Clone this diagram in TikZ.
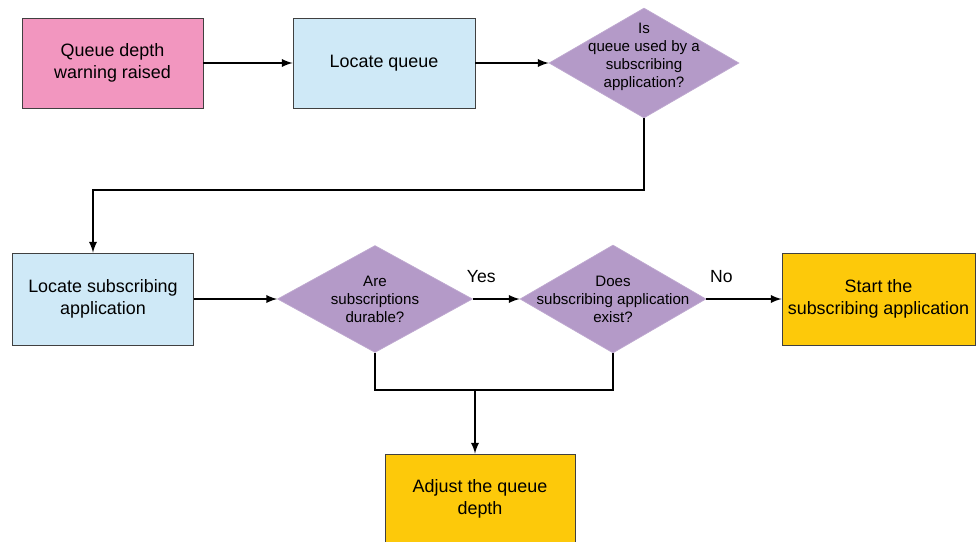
\documentclass[tikz,border=0pt]{standalone}
\usepackage{fontspec}
\setmainfont{Liberation Sans}
\usetikzlibrary{arrows,shapes.geometric}
\definecolor{pinkbox}{HTML}{F296BF}
\definecolor{bluebox}{HTML}{CFE9F7}
\definecolor{purplebox}{HTML}{B49AC8}
\definecolor{orangebox}{HTML}{FDC90A}
\definecolor{edgegray}{HTML}{404040}

\begin{document}
\begin{tikzpicture}[x=0.02cm,y=-0.02cm,
  box/.style={draw=edgegray,line width=0.5pt,minimum width=3.62cm,minimum height=1.8cm,
    align=center,font=\fontsize{10.2}{12.4}\selectfont},
  decision/.style={diamond,fill=purplebox,draw=purplebox!85!white,inner sep=0pt},
  dtext/.style={align=center,font=\fontsize{8.6}{10.2}\selectfont},
  flow/.style={line width=1.1pt,>=latex}]
\useasboundingbox (0,0) rectangle (977,541);
% top row
\node[box,fill=pinkbox] (A) at (112.5,63) {Queue depth\\warning raised};
\node[box,fill=bluebox,minimum width=3.64cm] (B) at (384,63) {Locate queue};
\node[decision,minimum width=3.8cm,minimum height=2.2cm,
  label={[dtext,yshift=0.12cm]center:{Is\\queue used by a\\subscribing\\application?}}] (C) at (644,63) {};
% middle row
\node[box,fill=bluebox,minimum height=1.84cm] (D) at (103,299) {Locate subscribing\\application};
\node[decision,minimum width=3.9cm,minimum height=2.14cm,
  label={[dtext]center:{Are\\subscriptions\\durable?}}] (F) at (375,299) {};
\node[decision,minimum width=3.72cm,minimum height=2.16cm,
  label={[dtext]center:{Does\\subscribing application\\exist?}}] (G) at (613,299) {};
\node[box,fill=orangebox,minimum width=3.82cm,minimum height=1.84cm] (H) at (878.5,299) {Start the\\subscribing application};
% bottom
\node[box,fill=orangebox,minimum width=3.8cm] (K) at (480,499) {Adjust the queue\\depth};
\coordinate (E1) at (93,190);
\coordinate (J) at (475,390);

\path[->,flow] (A) edge (B);
\path[->,flow] (B) edge (C);
\draw[->,flow] (C.south) |- (E1) -- (E1 |- D.north);
\path[->,flow] (D) edge (F);
\path[->,flow,font=\fontsize{10}{12}\selectfont]
(F) edge node[above=5.6pt,pos=0.18] {Yes} (G);
\path[->,flow,font=\fontsize{10}{12}\selectfont]
(G) edge node[above=5.6pt,pos=0.2] {No} (H);
\draw[flow] (F.south) |- (J);
\draw[flow] (G.south) |- (J);
\draw[->,flow] (J) -- (J |- K.north);
\end{tikzpicture}
\end{document}
